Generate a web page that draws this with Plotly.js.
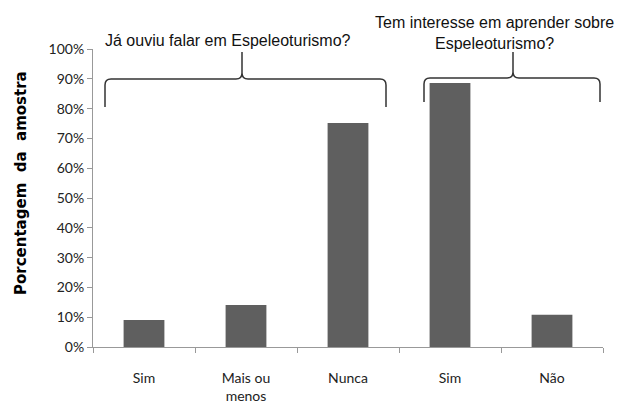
<!DOCTYPE html>
<html>
<head>
<meta charset="utf-8">
<script src="https://cdn.plot.ly/plotly-3.0.1.min.js"></script>
<style>html,body{margin:0;padding:0;background:#fff;}</style>
</head>
<body>
<div id="chart" style="width:627px;height:407px;"></div>
<script>
const categories = ["Sim", "Mais ou<br>menos", "Nunca", "Sim", "Não"];
const values = [0.091, 0.141, 0.752, 0.886, 0.108];
const yTickVals = [0, 0.1, 0.2, 0.3, 0.4, 0.5, 0.6, 0.7, 0.8, 0.9, 1.0];
const yTitle = "Porcentagem  da  amostra";
const groupLabels = ["Já ouviu falar em Espeleoturismo?", "Tem interesse em aprender sobre<br>Espeleoturismo?"];

const xIdx = categories.map((_, i) => i);

// helpers in paper coords (plot area: x 93..603, y 49..347)
const L = 93, R = 603, T = 49, B = 347;
function px(x){ return (x - L) / (R - L); }
function py(y){ return (B - y) / (B - T); }
function brace(x1, x2, xm, yEnd, yH, yTip){
  const r = 6;
  return `M ${px(x1)} ${py(yEnd)} L ${px(x1)} ${py(yH + r)} Q ${px(x1)} ${py(yH)} ${px(x1 + r)} ${py(yH)} ` +
         `L ${px(xm - r)} ${py(yH)} Q ${px(xm)} ${py(yH)} ${px(xm)} ${py(yH - r)} L ${px(xm)} ${py(yTip)} ` +
         `M ${px(xm)} ${py(yH - r)} Q ${px(xm)} ${py(yH)} ${px(xm + r)} ${py(yH)} ` +
         `L ${px(x2 - r)} ${py(yH)} Q ${px(x2)} ${py(yH)} ${px(x2)} ${py(yH + r)} L ${px(x2)} ${py(yEnd)}`;
}

const trace = {
  type: 'bar',
  x: xIdx,
  y: values,
  width: 0.4,
  marker: {color: '#5f5f5f'},
  hoverinfo: 'none'
};

const layout = {
  width: 627, height: 407,
  margin: {l: 93, r: 24, t: 49, b: 60, pad: 0},
  paper_bgcolor: '#fff', plot_bgcolor: '#fff',
  showlegend: false,
  font: {family: 'Lato, "Open Sans", sans-serif', size: 14, color: '#222'},
  xaxis: {
    range: [-0.5, 4.5],
    tickvals: xIdx,
    ticktext: categories,
    ticks: '',
    ticklabelstandoff: 18,
    showgrid: false, zeroline: false,
    showline: true, linecolor: '#999', linewidth: 1,
    minor: {tick0: -0.5, dtick: 1, ticks: 'outside', ticklen: 5, tickcolor: '#999', showgrid: false},
    tickfont: {family: 'Lato, sans-serif', size: 14, color: '#222'},
    fixedrange: true
  },
  yaxis: {
    range: [0, 1],
    tickvals: yTickVals,
    tickformat: '.0%',
    ticks: 'outside', ticklen: 5, tickcolor: '#999',
    showgrid: false, zeroline: false,
    showline: true, linecolor: '#999', linewidth: 1,
    tickfont: {family: 'Lato, sans-serif', size: 14, color: '#222'},
    fixedrange: true
  },
  shapes: [
    {type: 'path', xref: 'paper', yref: 'paper', path: brace(105, 386, 242, 107, 79, 52), line: {color: '#333', width: 1.5}},
    {type: 'path', xref: 'paper', yref: 'paper', path: brace(424, 600, 513, 102, 78, 52), line: {color: '#333', width: 1.5}}
  ],
  annotations: [
    {xref: 'paper', yref: 'paper', x: px(21), y: py(183), text: '<b>' + yTitle + '</b>', textangle: -90, showarrow: false,
     font: {family: '"DejaVu Sans", sans-serif', size: 15, color: '#000'}, xanchor: 'center', yanchor: 'middle'},
    {xref: 'paper', yref: 'paper', x: px(228), y: py(40), text: groupLabels[0], showarrow: false,
     font: {family: '"Liberation Sans", Arial, sans-serif', size: 16, color: '#111'}, xanchor: 'center', yanchor: 'middle'},
    {xref: 'paper', yref: 'paper', x: px(494), y: py(33), text: groupLabels[1], showarrow: false, align: 'center',
     font: {family: '"Liberation Sans", Arial, sans-serif', size: 16, color: '#111'}, xanchor: 'center', yanchor: 'middle'}
  ]
};

Plotly.newPlot('chart', [trace], layout, {displayModeBar: false, staticPlot: true});
</script>
</body>
</html>
